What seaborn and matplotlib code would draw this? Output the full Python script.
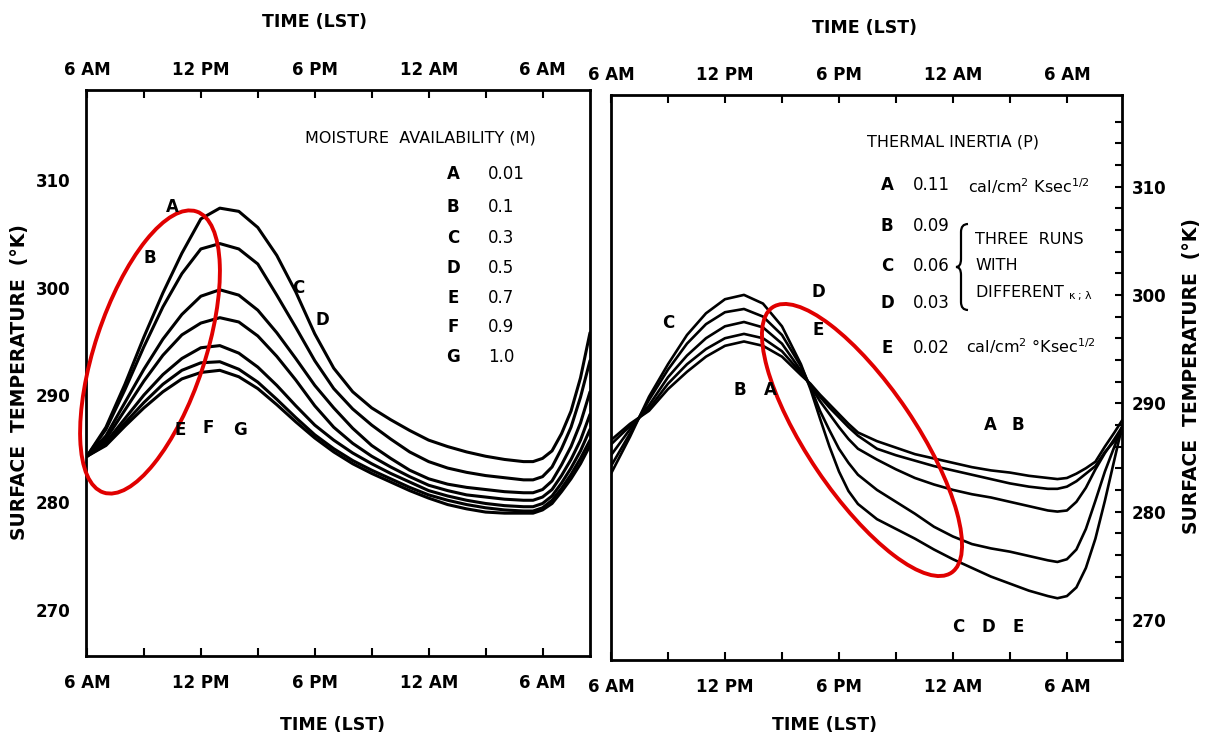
import numpy as np
import pandas as pd
import matplotlib
matplotlib.use("Agg")
import matplotlib.pyplot as plt
import seaborn as sns
from matplotlib.patches import Ellipse, PathPatch
from matplotlib.path import Path

# ---------------- data (hours from midnight of day 1) ----------------
hours_left = [6, 7, 8, 9, 10, 11, 12, 13, 14, 15, 16, 17, 18, 19, 20, 21, 22, 23,
              24, 25, 26, 27, 28, 29, 29.5, 30, 30.5, 31, 31.5, 32, 32.5]
moist_A = [284.3, 287.0, 291.0, 295.4, 299.5, 303.2, 306.4, 307.4, 307.1, 305.6, 303.0, 299.6,
           295.7, 292.5, 290.3, 288.8, 287.7, 286.7, 285.8, 285.2, 284.7, 284.3, 284.0, 283.8,
           283.8, 284.1, 284.8, 286.4, 288.5, 291.6, 295.8]
moist_B = [284.3, 286.8, 290.5, 294.5, 298.2, 301.3, 303.6, 304.1, 303.6, 302.2, 299.3, 296.3,
           293.2, 290.6, 288.7, 287.2, 285.9, 284.7, 283.8, 283.2, 282.8, 282.5, 282.3, 282.1,
           282.1, 282.4, 283.3, 285.0, 287.0, 289.8, 293.2]
moist_C = [284.3, 286.2, 289.3, 292.4, 295.2, 297.5, 299.2, 299.8, 299.3, 297.9, 295.8, 293.4,
           290.9, 288.8, 286.9, 285.3, 284.1, 283.0, 282.2, 281.7, 281.4, 281.2, 281.0, 280.9,
           280.9, 281.2, 282.0, 283.5, 285.2, 287.4, 290.3]
moist_D = [284.3, 285.9, 288.6, 291.3, 293.7, 295.6, 296.7, 297.2, 296.8, 295.5, 293.6, 291.4,
           289.0, 287.0, 285.5, 284.3, 283.3, 282.4, 281.6, 281.1, 280.7, 280.5, 280.3, 280.2,
           280.2, 280.5, 281.2, 282.5, 284.0, 285.8, 288.2]
moist_E = [284.3, 285.6, 287.8, 290.0, 291.9, 293.4, 294.4, 294.6, 293.9, 292.6, 290.9, 289.0,
           287.2, 285.8, 284.6, 283.6, 282.7, 281.9, 281.1, 280.6, 280.2, 279.9, 279.7, 279.6,
           279.6, 279.9, 280.6, 281.8, 283.2, 284.8, 286.8]
moist_F = [284.3, 285.4, 287.4, 289.3, 291.0, 292.3, 293.0, 293.1, 292.4, 291.2, 289.6, 287.9,
           286.3, 285.0, 283.9, 283.0, 282.2, 281.4, 280.7, 280.2, 279.8, 279.5, 279.3, 279.2,
           279.2, 279.5, 280.2, 281.3, 282.6, 284.1, 285.8]
moist_G = [284.3, 285.3, 287.1, 288.8, 290.3, 291.5, 292.1, 292.3, 291.7, 290.6, 289.1, 287.5,
           286.0, 284.7, 283.6, 282.7, 281.9, 281.1, 280.4, 279.8, 279.4, 279.1, 279.0, 279.0,
           279.0, 279.3, 279.9, 281.0, 282.2, 283.6, 285.3]

hours_right = [6, 7, 8, 9, 10, 11, 12, 13, 14, 15, 16, 16.5, 17, 17.5, 18, 18.5, 19, 20, 21,
               22, 23, 24, 25, 26, 27, 28, 29, 29.5, 30, 30.5, 31, 31.5, 32, 32.5, 32.9]
inert_A = [286.6, 288.1, 289.3, 291.3, 292.9, 294.3, 295.3, 295.7, 295.3, 294.3, 292.6, 291.8,
           290.8, 289.9, 289.0, 288.1, 287.3, 286.5, 285.9, 285.3, 284.9, 284.5, 284.1, 283.8,
           283.6, 283.3, 283.1, 283.0, 283.1, 283.5, 284.0, 284.6, 286.0, 287.3, 288.4]
inert_B = [286.2, 287.9, 289.5, 291.8, 293.6, 295.0, 296.0, 296.4, 296.0, 294.8, 292.8, 291.7,
           290.6, 289.6, 288.7, 287.8, 287.0, 285.8, 285.2, 284.7, 284.2, 283.8, 283.4, 283.0,
           282.6, 282.3, 282.1, 282.1, 282.3, 282.8, 283.5, 284.2, 285.5, 286.5, 287.3]
inert_C = [285.2, 287.6, 289.8, 292.4, 294.4, 296.0, 297.1, 297.5, 297.0, 295.5, 293.0, 291.6,
           290.2, 289.0, 287.8, 286.7, 285.8, 284.8, 283.9, 283.1, 282.5, 282.0, 281.6, 281.3,
           280.9, 280.5, 280.1, 280.0, 280.1, 280.9, 282.2, 283.9, 285.4, 286.7, 287.8]
inert_D = [284.2, 287.2, 290.3, 293.1, 295.5, 297.3, 298.4, 298.7, 298.0, 296.3, 293.4, 291.5,
           289.3, 287.5, 285.8, 284.5, 283.4, 282.0, 280.9, 279.8, 278.6, 277.7, 277.0, 276.6,
           276.3, 275.9, 275.5, 275.35, 275.6, 276.5, 278.4, 281.0, 283.7, 286.0, 287.8]
inert_E = [283.5, 286.9, 290.6, 293.6, 296.3, 298.3, 299.6, 300.0, 299.2, 297.1, 293.6, 291.3,
           288.6, 286.0, 283.7, 281.9, 280.7, 279.3, 278.4, 277.5, 276.5, 275.6, 274.8, 274.0,
           273.35, 272.7, 272.2, 272.0, 272.2, 273.0, 274.8, 277.5, 281.0, 284.8, 287.8]

moist_names = ["A", "B", "C", "D", "E", "F", "G"]
moist_values = ["0.01", "0.1", "0.3", "0.5", "0.7", "0.9", "1.0"]
inert_names = ["A", "B", "C", "D", "E"]
inert_values = ["0.11", "0.09", "0.06", "0.03", "0.02"]

tick_hours = [6, 12, 18, 24, 30]
tick_labels = ["6 AM", "12 PM", "6 PM", "12 AM", "6 AM"]
temp_ticks = [270, 280, 290, 300, 310]

# ---------------- build long tables ----------------
left_series = [moist_A, moist_B, moist_C, moist_D, moist_E, moist_F, moist_G]
right_series = [inert_A, inert_B, inert_C, inert_D, inert_E]
df_left = pd.concat([pd.DataFrame({"hour": hours_left, "temp": s, "curve": n})
                     for n, s in zip(moist_names, left_series)], ignore_index=True)
df_right = pd.concat([pd.DataFrame({"hour": hours_right, "temp": s, "curve": n})
                      for n, s in zip(inert_names, right_series)], ignore_index=True)

sns.set_theme(style="white")
plt.rcParams["font.family"] = ["DejaVu Sans"]
plt.rcParams["mathtext.default"] = "regular"
plt.rcParams["axes.linewidth"] = 2.0
plt.rcParams["lines.solid_joinstyle"] = "round"
plt.rcParams["text.color"] = "black"
plt.rcParams["xtick.color"] = "black"
plt.rcParams["ytick.color"] = "black"
plt.rcParams["xtick.labelcolor"] = "black"
plt.rcParams["ytick.labelcolor"] = "black"

W, H = 1209, 746
fig = plt.figure(figsize=(W / 100, H / 100), dpi=100)
fig.patch.set_facecolor("white")


def frac(x0, y0, x1, y1):
    return [x0 / W, 1 - y1 / H, (x1 - x0) / W, (y1 - y0) / H]


axL = fig.add_axes(frac(86, 90, 590, 656))
axR = fig.add_axes(frac(611, 95, 1122, 660))

sns.lineplot(data=df_left, x="hour", y="temp", hue="curve", units="curve", estimator=None,
             palette={n: "black" for n in moist_names}, linewidth=2.2, legend=False, ax=axL)
sns.lineplot(data=df_right, x="hour", y="temp", hue="curve", units="curve", estimator=None,
             palette={n: "black" for n in inert_names}, linewidth=1.9, legend=False, ax=axR)

axL.set_xlim(5.95, 32.5)
axL.set_ylim(265.7, 318.4)
axR.set_xlim(6.0, 32.9)
axR.set_ylim(266.3, 318.45)

tick_font = dict(fontsize=12, fontweight="bold", color="black")
for ax in (axL, axR):
    ax.set_xlabel("")
    ax.set_ylabel("")
    ax.set_facecolor("white")
    for sp in ax.spines.values():
        sp.set_color("black")
        sp.set_linewidth(2.0)
    ax.set_xticks(tick_hours)
    ax.set_xticklabels(tick_labels, **tick_font)
    ax.set_xticks([9, 15, 21, 27], minor=True)
    ax.tick_params(axis="x", which="both", direction="in", length=6, width=1.5,
                   color="black", bottom=True, top=True, pad=13)
    ax.set_yticks(temp_ticks)
    ax.set_yticklabels([str(t) for t in temp_ticks], **tick_font)
    sec = ax.secondary_xaxis("top")
    sec.set_xticks(tick_hours)
    sec.set_xticklabels(tick_labels, **tick_font)
    sec.tick_params(axis="x", direction="in", length=0, pad=8)
    sec.spines["top"].set_visible(False)

axL.tick_params(axis="y", which="both", left=True, right=False, length=0, pad=11)
axR.yaxis.tick_right()
axR.set_yticks(np.arange(268, 318, 2), minor=True)
axR.tick_params(axis="y", which="both", left=False, right=True, direction="in",
                length=5, width=1.5, color="black", pad=7)

# ---------------- overlay in pixel coordinates ----------------
ov = fig.add_axes([0, 0, 1, 1], zorder=10)
ov.set_xlim(0, W)
ov.set_ylim(H, 0)
ov.axis("off")
ov.patch.set_alpha(0)

bold = dict(fontweight="bold", color="black")
ov.text(315, 22, "TIME (LST)", ha="center", va="center", fontsize=12.5, **bold)
ov.text(865, 28, "TIME (LST)", ha="center", va="center", fontsize=12.5, **bold)
ov.text(333, 725, "TIME (LST)", ha="center", va="center", fontsize=12.5, **bold)
ov.text(825, 725, "TIME (LST)", ha="center", va="center", fontsize=12.5, **bold)
ov.text(20, 382, "SURFACE  TEMPERATURE  (°K)", ha="center", va="center", rotation=90,
        fontsize=13.5, **bold)
ov.text(1192, 376, "SURFACE  TEMPERATURE  (°K)", ha="center", va="center", rotation=90,
        fontsize=13.5, **bold)

# left legend
ov.text(305, 138, "MOISTURE  AVAILABILITY (M)", ha="left", va="center", fontsize=11.5, color="black")
row_y_left = [174, 207, 238, 268, 298, 327, 357]
for n, v, y in zip(moist_names, moist_values, row_y_left):
    ov.text(453, y, n, ha="center", va="center", fontsize=12, **bold)
    ov.text(488, y, v, ha="left", va="center", fontsize=12, color="black")

# left curve labels
for txt, (x, y) in zip(["A", "B", "C", "D", "E", "F", "G"],
                       [(172, 207), (150, 258), (298, 288), (322, 320), (180, 430),
                        (208, 428), (240, 430)]):
    ov.text(x, y, txt, ha="center", va="center", fontsize=12, **bold)

# right legend
ov.text(867, 142, "THERMAL INERTIA (P)", ha="left", va="center", fontsize=11.5, color="black")
row_y_right = [185, 226, 266, 303, 348]
for n, v, y in zip(inert_names, inert_values, row_y_right):
    ov.text(887, y, n, ha="center", va="center", fontsize=12, **bold)
    ov.text(913, y, v, ha="left", va="center", fontsize=12, color="black")
ov.text(968, 186, r"cal/cm$^{2}$ Ksec$^{1/2}$", ha="left", va="center", fontsize=11.5, color="black")
ov.text(966, 346, r"cal/cm$^{2}$ °Ksec$^{1/2}$", ha="left", va="center", fontsize=11.5, color="black")
brace = Path([(968, 224), (961, 224), (961, 232), (961, 259), (961, 267), (956, 267),
              (961, 267), (961, 275), (961, 302), (961, 310), (968, 310)],
             [Path.MOVETO, Path.CURVE3, Path.CURVE3, Path.LINETO, Path.CURVE3, Path.CURVE3,
              Path.CURVE3, Path.CURVE3, Path.LINETO, Path.CURVE3, Path.CURVE3])
ov.add_patch(PathPatch(brace, fill=False, edgecolor="black", linewidth=1.6))
ov.text(975, 240, "THREE  RUNS", ha="left", va="center", fontsize=11.5, color="black")
ov.text(975, 266, "WITH", ha="left", va="center", fontsize=11.5, color="black")
ov.text(975, 293, r"DIFFERENT $_{\kappa\,;\,\lambda}$", ha="left", va="center", fontsize=11.5,
        color="black")

# right curve labels
for txt, (x, y) in zip(["C", "B", "A", "D", "E", "A", "B", "C", "D", "E"],
                       [(668, 323), (740, 390), (770, 390), (818, 292), (818, 330),
                        (990, 425), (1018, 425), (958, 627), (988, 627), (1018, 627)]):
    ov.text(x, y, txt, ha="center", va="center", fontsize=12, **bold)

# red highlight ellipses
ov.add_patch(Ellipse((150, 352), width=296, height=110, angle=-71.7, fill=False,
                     edgecolor="#e00000", linewidth=2.8))
ov.add_patch(Ellipse((862, 440), width=320, height=108, angle=56, fill=False,
                     edgecolor="#e00000", linewidth=2.8))

fig.savefig("out.png", dpi=100, facecolor="white")
